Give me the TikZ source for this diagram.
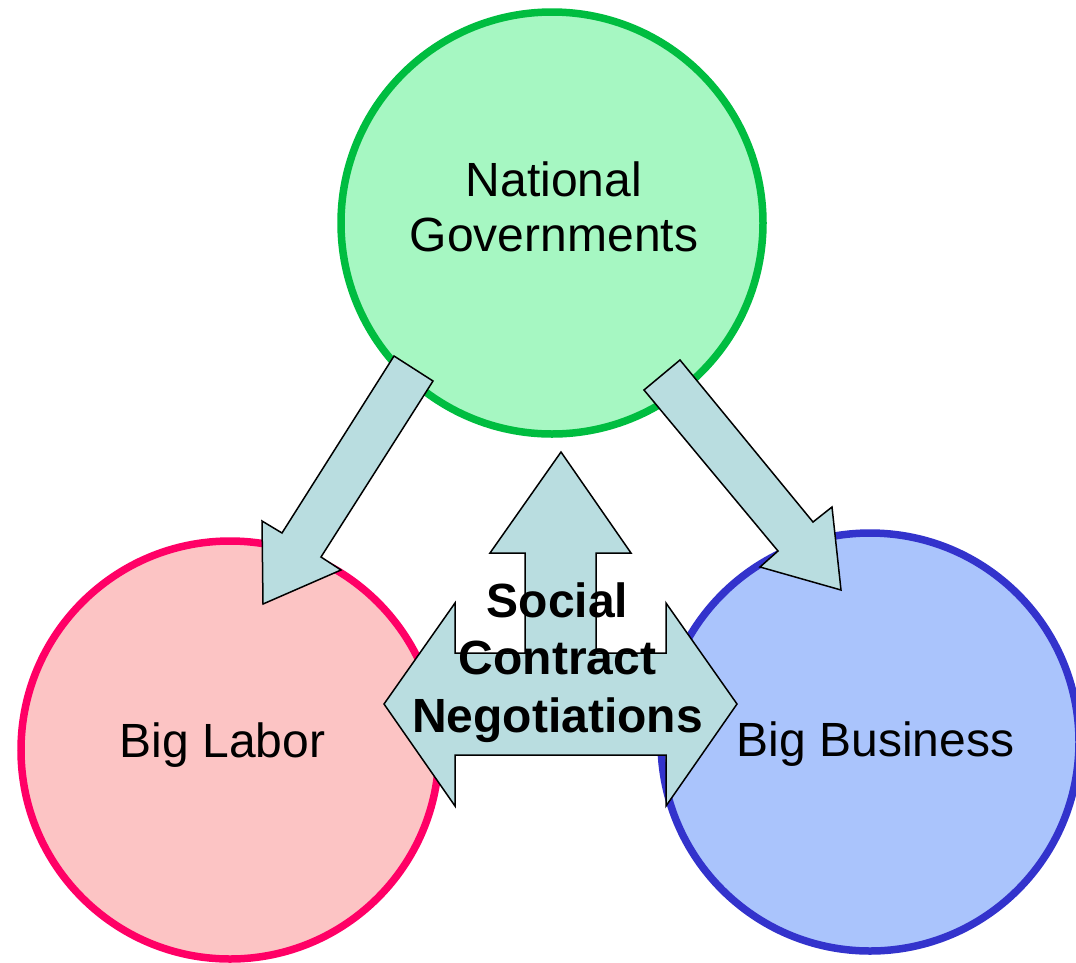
\documentclass[tikz,border=0pt]{standalone}
\usepackage{fontspec}
\setmainfont{Liberation Sans}
\usepackage{tikz}
\definecolor{govfill}{RGB}{166,247,194}
\definecolor{govline}{RGB}{0,189,64}
\definecolor{laborfill}{RGB}{252,196,196}
\definecolor{laborline}{RGB}{255,0,102}
\definecolor{businessfill}{RGB}{170,196,252}
\definecolor{businessline}{RGB}{51,51,204}
\definecolor{arrowfill}{RGB}{185,221,224}
\tikzstyle{party}=[circle, line width=7.5pt, inner sep=0pt]
\tikzstyle{partygov}=[party, draw=govline, fill=govfill, minimum size=422pt]
\tikzstyle{partylabor}=[party, draw=laborline, fill=laborfill, minimum size=418pt]
\tikzstyle{partybusiness}=[party, draw=businessline, fill=businessfill, minimum size=418pt]
\tikzstyle{blockarrow}=[draw=black, fill=arrowfill, line width=1.5pt, line join=miter]
\tikzstyle{caption}=[anchor=base, align=center, inner sep=0pt, font=\fontsize{48}{55}\selectfont]

\begin{document}
\begin{tikzpicture}[x=1pt, y=-1pt]
		   \useasboundingbox (0, 0) rectangle (1076, 962);
		   \begin{scope}
			   \node (gov) at (552, 223) [partygov] {};
			   \node (labor) at (230, 750) [partylabor] {};
			   \node (business) at (870, 742) [partybusiness] {};
		   \end{scope}
		   \begin{scope}
			   % government to labor
			   \draw [blockarrow] (394, 356) -- (433, 381) -- (321, 557) -- (341, 570)
				   -- (263, 604) -- (262, 521) -- (282, 533) -- cycle;
			   % government to business
			   \draw [blockarrow] (680, 360) -- (813, 522) -- (832, 507) -- (841, 590)
				   -- (760, 567) -- (778, 551) -- (644, 390) -- cycle;
			   % negotiations: up arrow joined to the double arrow
			   \draw [blockarrow] (384, 704) -- (455, 603) -- (455, 653) -- (525, 653)
				   -- (525, 553) -- (490, 553) -- (561, 452) -- (631, 553) -- (596, 553)
				   -- (596, 653) -- (666, 653) -- (666, 603) -- (737, 704) -- (666, 806)
				   -- (666, 755) -- (455, 755) -- (455, 806) -- cycle;
		   \end{scope}
		   \begin{scope}
			   % base anchor sits on the last line
			   \node (govtext) at (554, 251.7) [caption] {National\\Governments};
			   \node (labortext) at (222.5, 757) [caption] {Big Labor};
			   \node (businesstext) at (875.5, 756) [caption] {Big Business};
			   \node (contract) at (557.5, 732) [caption, font=\fontsize{48}{57.5}\selectfont\bfseries] {Social\\Contract\\Negotiations};
		   \end{scope}
	   \end{tikzpicture}
\end{document}
